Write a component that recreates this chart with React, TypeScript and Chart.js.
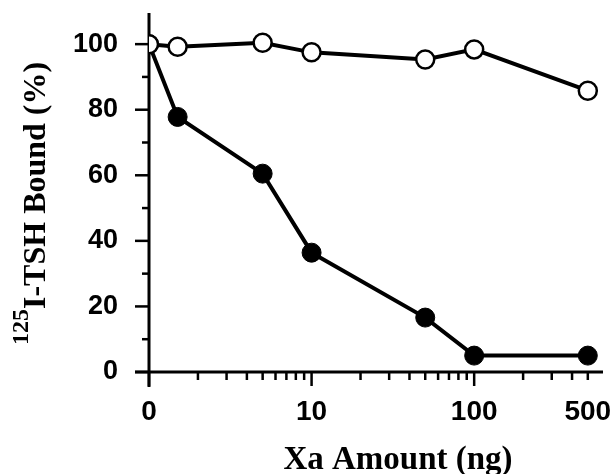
import React, { useEffect, useRef } from "react";
import { Chart, registerables } from "chart.js";

Chart.register(...registerables);

// Xa amount (ng); the value 1 is the plotted position of the "0" control on the log axis
const doses = [1, 1.5, 5, 10, 50, 100, 500];
const openSeries = [100, 99.2, 100.4, 97.5, 95.3, 98.4, 85.8];
const filledSeries = [100, 77.8, 60.5, 36.4, 16.6, 5.0, 5.0];

const xMajorTicks = [1, 10, 100];
const xMinorTicks = [2, 3, 4, 5, 6, 7, 8, 9, 20, 30, 40, 50, 60, 70, 80, 90, 200, 300, 400, 500];
const xTickLabels: Record<string, string> = { "1": "0", "10": "10", "100": "100", "500": "500" };
const yTickValues = [0, 10, 20, 30, 40, 50, 60, 70, 80, 90, 100];
const yLabelStep = 20;

const xTitle = "Xa Amount (ng)";
const yTitleSup = "125";
const yTitleMain = "I-TSH Bound (%)";

const axesPlugin = {
  id: "customAxes",
  beforeDatasetsDraw(chart: any) {
    const { ctx, chartArea, scales } = chart;
    const x = scales.x;
    const y = scales.y;
    const left = chartArea.left;
    const bottom = chartArea.bottom;
    ctx.save();
    ctx.strokeStyle = "#000";
    ctx.lineCap = "butt";
    ctx.lineWidth = 3;
    // y axis
    ctx.beginPath();
    ctx.moveTo(left, chartArea.top);
    ctx.lineTo(left, bottom + 15);
    ctx.stroke();
    // x axis
    ctx.beginPath();
    ctx.moveTo(left - 14, bottom);
    ctx.lineTo(chartArea.right, bottom);
    ctx.stroke();
    ctx.lineWidth = 2.5;
    // y ticks
    yTickValues.forEach((v) => {
      const py = y.getPixelForValue(v);
      const len = v % yLabelStep === 0 ? 14 : 7;
      ctx.beginPath();
      ctx.moveTo(left - len, py);
      ctx.lineTo(left, py);
      ctx.stroke();
    });
    // x ticks
    xMajorTicks.forEach((v) => {
      const px = x.getPixelForValue(v);
      ctx.beginPath();
      ctx.moveTo(px, bottom);
      ctx.lineTo(px, bottom + 14);
      ctx.stroke();
    });
    xMinorTicks.forEach((v) => {
      const px = x.getPixelForValue(v);
      ctx.beginPath();
      ctx.moveTo(px, bottom);
      ctx.lineTo(px, bottom + 8);
      ctx.stroke();
    });
    ctx.restore();
  },
  afterDraw(chart: any) {
    const { ctx } = chart;
    ctx.save();
    ctx.fillStyle = "#000";
    // x title
    ctx.font = "bold 33px 'Liberation Serif'";
    ctx.textAlign = "center";
    ctx.textBaseline = "alphabetic";
    ctx.fillText(xTitle, 398, 469);
    // y title (rotated, with superscript)
    ctx.translate(45, 345);
    ctx.rotate(-Math.PI / 2);
    ctx.textAlign = "left";
    ctx.font = "bold 24px 'Liberation Serif'";
    ctx.fillText(yTitleSup, 0, -17);
    const w = ctx.measureText(yTitleSup).width;
    ctx.font = "bold 32px 'Liberation Serif'";
    ctx.fillText(yTitleMain, w, 0);
    ctx.restore();
  },
};

export default function App() {
  const canvasRef = useRef<HTMLCanvasElement | null>(null);

  useEffect(() => {
    document.body.style.margin = "0";
    const canvas = canvasRef.current;
    if (!canvas) return;
    const chart = new Chart(canvas, {
      type: "line",
      data: {
        datasets: [
          {
            label: "open",
            data: doses.map((d, i) => ({ x: d, y: openSeries[i] })),
            borderColor: "#000",
            borderWidth: 4,
            backgroundColor: "#fff",
            pointBackgroundColor: "#fff",
            pointBorderColor: "#000",
            pointBorderWidth: 2.5,
            pointRadius: 9,
            tension: 0,
          },
          {
            label: "filled",
            data: doses.map((d, i) => ({ x: d, y: filledSeries[i] })),
            borderColor: "#000",
            borderWidth: 4,
            backgroundColor: "#000",
            pointBackgroundColor: "#000",
            pointBorderColor: "#000",
            pointBorderWidth: 1,
            pointRadius: 9.5,
            tension: 0,
          },
        ],
      },
      options: {
        responsive: false,
        animation: false,
        events: [],
        layout: { padding: { top: 13, right: 13, left: 0, bottom: 0 } },
        plugins: {
          legend: { display: false },
          tooltip: { enabled: false },
        },
        scales: {
          x: {
            type: "logarithmic",
            min: 1,
            max: 620,
            border: { display: false },
            grid: {
              display: true,
              drawOnChartArea: false,
              drawTicks: true,
              tickLength: 14,
              tickColor: "rgba(0,0,0,0)",
            },
            afterBuildTicks: (scale: any) => {
              scale.ticks = [...xMajorTicks, ...xMinorTicks]
                .sort((a, b) => a - b)
                .map((v) => ({ value: v }));
            },
            afterFit: (scale: any) => {
              scale.height = 102;
              scale.paddingLeft = 0;
              scale.paddingRight = 0;
              scale.paddingTop = 0;
              scale.paddingBottom = 0;
            },
            ticks: {
              autoSkip: false,
              maxRotation: 0,
              minRotation: 0,
              padding: 9,
              color: "#000",
              font: { family: "'Liberation Sans'", size: 28, weight: "bold" },
              callback: (value: any) => xTickLabels[String(value)] ?? "",
            },
          },
          y: {
            type: "linear",
            min: 0,
            max: 109.5,
            border: { display: false },
            grid: {
              display: true,
              drawOnChartArea: false,
              drawTicks: true,
              tickLength: 14,
              tickColor: "rgba(0,0,0,0)",
            },
            afterBuildTicks: (scale: any) => {
              scale.ticks = yTickValues.map((v) => ({ value: v }));
            },
            afterFit: (scale: any) => {
              scale.width = 149;
              scale.paddingLeft = 0;
              scale.paddingRight = 0;
              scale.paddingTop = 0;
              scale.paddingBottom = 0;
            },
            ticks: {
              autoSkip: false,
              padding: 17,
              color: "#000",
              font: { family: "'Liberation Sans'", size: 27, weight: "bold" },
              callback: (value: any) => (Number(value) % yLabelStep === 0 ? String(value) : ""),
            },
          },
        },
      },
      plugins: [axesPlugin],
    });
    return () => chart.destroy();
  }, []);

  return <canvas ref={canvasRef} width={616} height={474} style={{ display: "block" }} />;
}
